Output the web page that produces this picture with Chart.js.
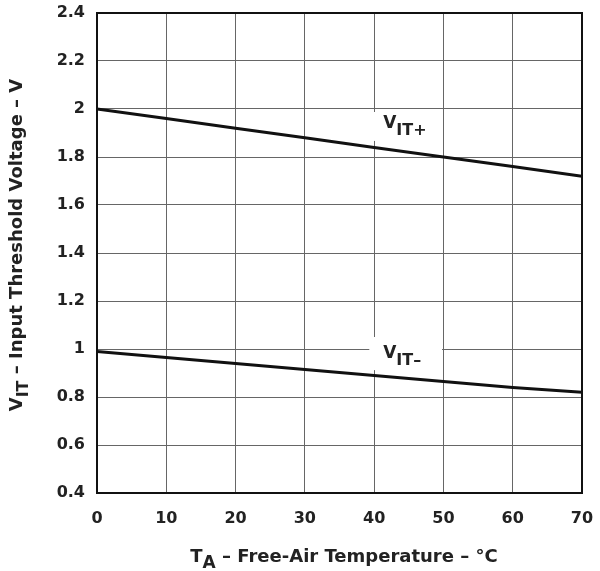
<!DOCTYPE html>
<html><head><meta charset="utf-8">
<script src="https://cdn.jsdelivr.net/npm/chart.js@4/dist/chart.umd.min.js"></script>
<style>html,body{margin:0;padding:0;background:#fff;}canvas{display:block;}</style>
</head><body>
<canvas id="c" width="600" height="571"></canvas>
<script>
const temperatures = [0, 10, 20, 30, 40, 50, 60, 70];
const vitPlus  = [2.00, 1.96, 1.92, 1.88, 1.84, 1.80, 1.76, 1.72];
const vitMinus = [0.99, 0.965, 0.94, 0.915, 0.89, 0.865, 0.84, 0.82];
const xTicks = [0, 10, 20, 30, 40, 50, 60, 70];
const yTicks = [0.4, 0.6, 0.8, 1.0, 1.2, 1.4, 1.6, 1.8, 2.0, 2.2, 2.4];
const seriesLabels = [
  {main: 'V', sub: 'IT+', x: 41.3, y: 1.921, box: [39.3, 49.8, 1.9875, 1.867]},
  {main: 'V', sub: 'IT\u2013', x: 41.3, y: 0.9625, box: [39.3, 49.8, 1.05, 0.912]}
];
const FONT = '"DejaVu Sans", sans-serif';

const overlay = {
  id: 'overlay',
  beforeDatasetsDraw(chart) {
    const {ctx, scales: {x, y}} = chart;
    ctx.save();
    ctx.fillStyle = '#fff';
    seriesLabels.forEach(l => {
      const x0 = x.getPixelForValue(l.box[0]), x1 = x.getPixelForValue(l.box[1]);
      const y0 = y.getPixelForValue(l.box[2]), y1 = y.getPixelForValue(l.box[3]);
      ctx.fillRect(x0, y0, x1 - x0, y1 - y0);
    });
    ctx.restore();
  },
  afterDraw(chart) {
    const {ctx, chartArea: a, scales: {x, y}} = chart;
    ctx.save();
    ctx.strokeStyle = '#111';
    ctx.lineWidth = 2;
    ctx.strokeRect(a.left, a.top, a.right - a.left, a.bottom - a.top);
    ctx.fillStyle = '#222';
    ctx.textBaseline = 'alphabetic';
    ctx.textAlign = 'left';
    seriesLabels.forEach(l => {
      const px = x.getPixelForValue(l.x), py = y.getPixelForValue(l.y);
      ctx.font = 'bold 17px ' + FONT;
      ctx.fillText(l.main, px, py);
      const w = ctx.measureText(l.main).width;
      ctx.font = 'bold 16px ' + FONT;
      ctx.fillText(l.sub, px + w, py + 7);
    });
    const xt = [['T', 18, 0], ['A', 17, 6], [' \u2013 Free-Air Temperature \u2013 \u00B0C', 18, 0]];
    let total = 0;
    xt.forEach(p => { ctx.font = 'bold ' + p[1] + 'px ' + FONT; total += ctx.measureText(p[0]).width; });
    let cx = 344 - total / 2;
    const by = 562;
    xt.forEach(p => { ctx.font = 'bold ' + p[1] + 'px ' + FONT; ctx.fillText(p[0], cx, by + p[2]); cx += ctx.measureText(p[0]).width; });
    ctx.translate(22, 245);
    ctx.rotate(-Math.PI / 2);
    const yt = [['V', 18, 0], ['IT', 16, 6], [' \u2013 Input Threshold Voltage \u2013 V', 18, 0]];
    total = 0;
    yt.forEach(p => { ctx.font = 'bold ' + p[1] + 'px ' + FONT; total += ctx.measureText(p[0]).width; });
    cx = -total / 2;
    yt.forEach(p => { ctx.font = 'bold ' + p[1] + 'px ' + FONT; ctx.fillText(p[0], cx, p[2]); cx += ctx.measureText(p[0]).width; });
    ctx.restore();
  }
};

new Chart(document.getElementById('c'), {
  type: 'line',
  data: {
    labels: temperatures,
    datasets: [
      {data: temperatures.map((t, i) => ({x: t, y: vitPlus[i]})), borderColor: '#111', borderWidth: 3, pointRadius: 0, tension: 0},
      {data: temperatures.map((t, i) => ({x: t, y: vitMinus[i]})), borderColor: '#111', borderWidth: 3, pointRadius: 0, tension: 0}
    ]
  },
  options: {
    responsive: false,
    animation: false,
    layout: {padding: {left: 0, right: 18, top: 13, bottom: 0}},
    plugins: {legend: {display: false}, tooltip: {enabled: false}},
    scales: {
      x: {
        type: 'linear', min: 0, max: 70,
        afterBuildTicks: s => { s.ticks = xTicks.map(v => ({value: v})); },
        afterFit: s => { s.height = 78; s.paddingLeft = 0; s.paddingRight = 0; },
        grid: {color: '#666', lineWidth: 1, drawTicks: false},
        border: {display: false},
        ticks: {color: '#222', font: {family: FONT, size: 16, weight: 'bold'}, padding: 16, maxRotation: 0}
      },
      y: {
        type: 'linear', min: 0.4, max: 2.4,
        afterBuildTicks: s => { s.ticks = yTicks.map(v => ({value: v})); },
        afterFit: s => { s.width = 97; s.paddingTop = 0; s.paddingBottom = 0; },
        grid: {color: '#666', lineWidth: 1, drawTicks: false},
        border: {display: false},
        ticks: {color: '#222', font: {family: FONT, size: 16, weight: 'bold'}, padding: 12,
          callback: v => (Math.round(v * 10) / 10).toString()}
      }
    }
  },
  plugins: [overlay]
});
</script>
</body></html>
